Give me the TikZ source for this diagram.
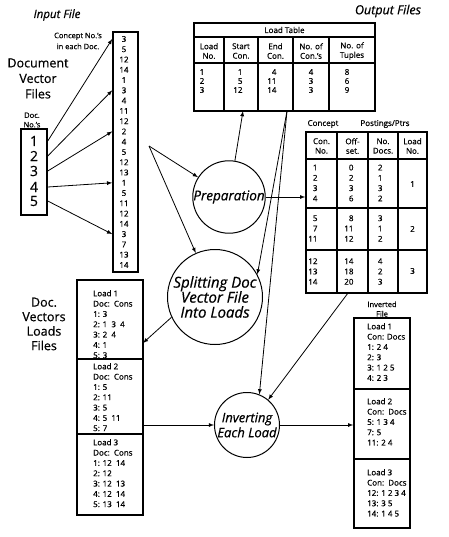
\documentclass[tikz,border=0pt]{standalone}
\usepackage{fontspec}
\setmainfont{Open Sans}[FakeBold=0.55]
\usetikzlibrary{arrows}

\begin{document}
\begin{tikzpicture}[x=1pt,y=-1pt,
	box/.style={draw,line width=1.5pt,inner sep=0pt},
	rule/.style={line width=1.2pt},
	proc/.style={draw,circle,line width=1pt,inner sep=0pt,align=center,font=\fontsize{13.5}{15}\selectfont\itshape},
	flow/.style={-latex,line width=0.8pt},
	small/.style={font=\fontsize{8}{10.3}\selectfont},
	rows/.style={font=\fontsize{8}{9}\selectfont},
	big/.style={align=center,font=\fontsize{12.5}{15.5}\selectfont},
	head/.style={font=\fontsize{11.5}{13}\selectfont\itshape}]
	\useasboundingbox (0,0) rectangle (448,537);
	\node[head] (inhead) at (57,15) {Input File};
	\node[head,font=\fontsize{12.5}{13}\selectfont\itshape] (outhead) at (388,11) {Output Files};
	\node[big] (dvfiles) at (38,78.5) {Document\\Vector\\Files};
	\node[small,align=center,font=\fontsize{7.5}{11}\selectfont] (cnlabel) at (78,41) {Concept No.'s\\in each Doc.};
	\node[small,align=center,font=\fontsize{7.5}{9.5}\selectfont] (dnlabel) at (32,120) {Doc.\\No.'s};
	\node[box,minimum width=26,minimum height=86] (docbox) at (34,172) {};
	\foreach \d/\y in {1/141,2/156,3/171,4/187,5/201}
		\node[font=\fontsize{14}{14}\selectfont] (d\d) at (34,\y) {\d};
	\node[box,minimum width=25,minimum height=240] (colbox) at (125.5,152) {};
	\foreach \n [count=\i from 0] in {3,5,12,14,1,3,4,11,12,2,4,5,12,13,1,5,11,12,14,3,7,13,14}
		\node[small] (c\i) at (124,{39+10.27*\i}) {\n};
	\foreach \d/\c in {1/0,2/5,3/9,4/14,5/19}
		\draw[flow] (docbox.east |- d\d) -- (colbox.west |- c\c);

	\node[box,minimum width=181,minimum height=88] (loadtab) at (284.5,67) {};
	\draw[rule] (194,37) -- (375,37);
	\draw[rule] (194,63) -- (375,63);
	\foreach \x in {224,258,293,329}
		\draw[rule] (\x,37) -- (\x,111);
	\node[small] (lttitle) at (284.5,30) {Load Table};
	\foreach \x/\t [count=\i] in {209/{Load\\No.},241/{Start\\Con.},275.5/{End\\Con.},311/{No. of\\Con.'s},352/{No. of\\Tuples}}
		\node[small,align=center,font=\fontsize{8}{9.5}\selectfont] (lth\i) at (\x,51) {\t};
	\node[rows,align=left] (ltc1) at (202,81) {1\\2\\3};
	\node[rows,align=right,anchor=east] (ltc2) at (246,81) {1\\5\\12};
	\node[rows,align=right,anchor=east] (ltc3) at (280,81) {4\\11\\14};
	\node[rows,align=left] (ltc4) at (311,81) {4\\3\\3};
	\node[rows,align=left] (ltc5) at (347,81) {8\\6\\9};

	\node[small] (ptconcept) at (323,124) {Concept};
	\node[small] (ptposts) at (385,124) {Postings/Ptrs};
	\node[box,minimum width=121,minimum height=161] (posttab) at (366.5,212.5) {};
	\foreach \y in {159,208,250}
		\draw[rule] (306,\y) -- (427,\y);
	\foreach \x in {337,368,398}
		\draw[rule] (\x,132) -- (\x,293);
	\foreach \x/\t [count=\i] in {321.5/{Con.\\No.},352.5/{Off-\\set.},383/{No.\\Docs.},412.5/{Load\\No.}}
		\node[small,align=center,font=\fontsize{8}{9.5}\selectfont] (pth\i) at (\x,146) {\t};
	\node[small,align=right,anchor=east] (pta1) at (321,183) {1\\2\\3\\4};
	\node[small,align=right,anchor=east] (pta2) at (357,183) {0\\2\\3\\6};
	\node[small,align=right,anchor=east] (pta3) at (386,183) {2\\1\\3\\2};
	\node[small] (pta4) at (412.5,184) {1};
	\node[small,align=right,anchor=east] (ptb1) at (321,228.5) {5\\7\\11};
	\node[small,align=right,anchor=east] (ptb2) at (357,228.5) {8\\11\\12};
	\node[small,align=right,anchor=east] (ptb3) at (386,228.5) {3\\1\\2};
	\node[small] (ptb4) at (412.5,229) {2};
	\node[small,align=right,anchor=east] (ptc1) at (321,271.5) {12\\13\\14};
	\node[small,align=right,anchor=east] (ptc2) at (357,271.5) {14\\18\\20};
	\node[small,align=right,anchor=east] (ptc3) at (386,271.5) {4\\2\\3};
	\node[small] (ptc4) at (412.5,271) {3};

	\node[proc,minimum size=72] (prep) at (229,197) {Preparation};
	\node[proc,minimum size=95,font=\fontsize{15}{15}\selectfont\itshape] (split) at (215,297) {Splitting Doc\\Vector File\\Into Loads};
	\node[proc,minimum size=65,font=\fontsize{13}{15}\selectfont\itshape] (inv) at (247,425) {Inverting\\Each Load};

	\node[big,font=\fontsize{12.5}{14.5}\selectfont] (dvlfiles) at (44,324) {Doc.\\Vectors\\Loads\\Files};
	\node[box,minimum width=66,minimum height=235] (loadbox) at (110,397.5) {};
	\draw[rule] (77,359) -- (143,359);
	\draw[rule] (77,434) -- (143,434);
	\node[small,align=left,anchor=north west,inner sep=0pt] (lf1) at (93,290) {Load 1\\Doc:\ \ Cons\\1: 3\\2: 1\ \ 3\ \ 4\\3: 2\ \ 4\\4: 1\\5: 3};
	\node[small,align=left,anchor=north west,inner sep=0pt] (lf2) at (93,363) {Load 2\\Doc:\ \ Cons\\1: 5\\2: 11\\3: 5\\4: 5\ \ 11\\5: 7};
	\node[small,align=left,anchor=north west,inner sep=0pt] (lf3) at (93,439) {Load 3\\Doc:\ \ Cons\\1: 12\ \ 14\\2: 12\\3: 12\ \ 13\\4: 12\ \ 14\\5: 13\ \ 14};

	\node[small,align=center,font=\fontsize{7.5}{9.5}\selectfont] (ivlabel) at (382,309) {Inverted\\File};
	\node[box,minimum width=56,minimum height=210] (invbox) at (382,423) {};
	\draw[rule] (354,389) -- (410,389);
	\draw[rule] (354,459) -- (410,459);
	\node[small,align=left,anchor=north west,inner sep=0pt] (if1) at (367,323) {Load 1\\Con: Docs\\1: 2 4\\2: 3\\3: 1 2 5\\4: 2 3};
	\node[small,align=left,anchor=north west,inner sep=0pt] (if2) at (367,398) {Load 2\\Con:\ \ Docs\\5: 1 3 4\\7: 5\\11: 2 4};
	\node[small,align=left,anchor=north west,inner sep=0pt] (if3) at (367,469) {Load 3\\Con:\ \ Docs\\12: 1 2 3 4\\13: 3 5\\14: 1 4 5};

	\coordinate (fork) at (149,146);
	\coordinate (ltin) at (243,111);
	\coordinate (ltout) at (287,111);
	\coordinate (ptout) at (348,293);
	\coordinate (lfin) at (143,343);
	\draw[flow] (fork) -- (prep);
	\draw[flow] (fork) -- (split);
	\draw[flow] (prep) -- (ltin);
	\draw[flow] (prep) -- (prep -| posttab.west);
	\draw[flow] (ltout) -- (split.28);
	\draw[flow] (ltout) -- (inv.68);
	\draw[flow] (ptout) -- (inv.50);
	\draw[flow] (split.205) -- (lfin);
	\draw[flow] (loadbox.east |- inv) -- (inv);
	\draw[flow] (inv) -- (inv -| invbox.west);
\end{tikzpicture}
\end{document}
